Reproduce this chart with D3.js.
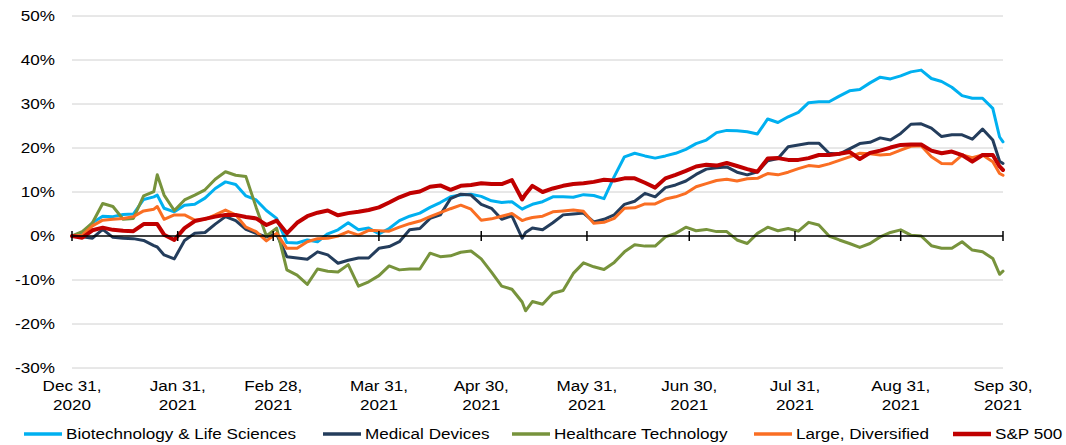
<!DOCTYPE html>
<html><head><meta charset="utf-8">
<script src="https://cdn.jsdelivr.net/npm/d3@7"></script>
<style>
html,body{margin:0;padding:0;background:#fff;}
svg{display:block;}
text{font-family:"Liberation Sans",Arial,Helvetica,sans-serif;font-size:15px;fill:#000;}
</style>
</head><body>
<svg id="chart" width="1066" height="445"></svg>
<script>
// ---------- DATA ----------
const dates = ["2020-12-31","2021-01-03","2021-01-06","2021-01-09","2021-01-12","2021-01-15","2021-01-18","2021-01-21","2021-01-24","2021-01-25",
"2021-01-27","2021-01-30","2021-02-02","2021-02-05","2021-02-08","2021-02-11","2021-02-14","2021-02-17","2021-02-20","2021-02-23",
"2021-02-26","2021-03-01","2021-03-04","2021-03-07","2021-03-10","2021-03-13","2021-03-16","2021-03-19","2021-03-22","2021-03-25",
"2021-03-28","2021-03-31","2021-04-03","2021-04-06","2021-04-09","2021-04-12","2021-04-15","2021-04-18","2021-04-21","2021-04-24",
"2021-04-27","2021-04-30","2021-05-03","2021-05-06","2021-05-09","2021-05-12","2021-05-13","2021-05-15","2021-05-18","2021-05-21",
"2021-05-24","2021-05-27","2021-05-30","2021-06-02","2021-06-05","2021-06-08","2021-06-11","2021-06-14","2021-06-17","2021-06-20",
"2021-06-23","2021-06-26","2021-06-29","2021-07-02","2021-07-05","2021-07-08","2021-07-11","2021-07-14","2021-07-17","2021-07-20",
"2021-07-23","2021-07-26","2021-07-29","2021-08-01","2021-08-04","2021-08-07","2021-08-10","2021-08-13","2021-08-16","2021-08-19",
"2021-08-22","2021-08-25","2021-08-28","2021-08-31","2021-09-03","2021-09-06","2021-09-09","2021-09-12","2021-09-15","2021-09-18",
"2021-09-21","2021-09-24","2021-09-27","2021-09-29","2021-09-30"];

const biotech = [0,0.5,3.0,4.5,4.4,4.9,5.0,8.3,8.9,9.3,
6.3,5.5,7.0,7.2,8.6,10.8,12.3,11.7,9.1,8.2,
5.8,4.0,-1.5,-1.6,-0.9,-1.3,0.5,1.4,3.0,1.4,
1.8,0.5,1.7,3.5,4.5,5.2,6.5,7.6,8.9,9.3,
9.5,9.0,8.0,7.6,7.8,6.1,6.5,7.2,7.8,8.9,
8.9,8.8,9.4,9.2,8.5,13.5,18.0,18.8,18.2,17.7,
18.2,18.8,19.7,21.0,21.8,23.5,24.0,23.9,23.7,23.2,
26.6,25.8,27.1,28.1,30.3,30.5,30.5,31.8,33.0,33.3,
34.8,36.1,35.7,36.4,37.3,37.7,35.8,35.1,33.8,31.9,
31.3,31.3,29.0,22.5,21.4];

const medical = [0,-0.2,-0.5,1.5,-0.3,-0.5,-0.6,-1.0,-2.2,-2.5,
-4.3,-5.2,-1.0,0.6,0.8,2.7,4.4,3.5,1.5,0.6,
-0.2,0.4,-4.7,-5.0,-5.3,-3.6,-4.3,-6.2,-5.5,-5.0,
-5.0,-2.8,-2.4,-1.3,1.4,1.7,4.0,4.8,8.5,9.5,
9.3,7.2,6.3,3.8,4.6,-0.5,0.8,1.8,1.4,3.0,
4.8,5.0,5.2,3.2,3.8,4.8,7.2,7.9,9.7,8.9,
11.0,11.6,12.5,14.0,15.2,15.5,15.7,14.5,13.9,14.6,
17.1,17.6,20.3,20.7,21.1,21.1,18.8,18.6,19.8,21.0,
21.3,22.3,21.8,23.3,25.4,25.5,24.5,22.6,23.0,23.0,
22.0,24.3,21.8,17.0,16.5];

const healthTech = [0,1.0,3.0,7.4,6.7,3.8,4.0,9.1,10.1,13.9,
9.3,5.8,8.2,9.3,10.5,12.9,14.6,13.8,13.5,6.5,
0.0,1.8,-7.7,-8.9,-11.0,-7.5,-8.0,-8.2,-6.5,-11.4,
-10.4,-9.0,-6.8,-7.7,-7.5,-7.5,-3.9,-4.7,-4.5,-3.7,
-3.4,-5.2,-8.2,-11.4,-12.1,-15.0,-17.0,-14.9,-15.5,-13.0,
-12.4,-8.5,-6.1,-7.0,-7.6,-6.0,-3.6,-2.0,-2.3,-2.3,
-0.2,0.6,2.0,1.2,1.5,1.0,1.0,-0.9,-1.7,0.6,
2.0,1.2,1.7,1.1,3.1,2.5,0.0,-0.9,-1.7,-2.6,
-1.7,-0.2,0.8,1.4,0.2,0.0,-2.2,-2.8,-2.8,-1.3,
-3.2,-3.6,-5.1,-8.7,-8.0];

const largeDiv = [0,0.2,2.3,3.6,3.8,4.0,4.4,5.7,6.1,6.7,
3.8,4.8,4.8,3.6,3.8,4.8,5.9,4.8,2.0,1.0,
-1.1,0.6,-2.8,-2.8,-1.3,-0.6,-0.5,0.0,1.0,0.2,
1.3,1.2,1.1,2.0,2.8,3.4,4.4,5.3,6.2,7.0,
6.1,3.6,3.9,4.5,5.1,3.5,3.8,4.2,4.5,5.5,
5.7,5.9,5.6,2.9,3.1,4.0,6.3,6.4,7.3,7.3,
8.4,8.9,9.7,11.2,11.9,12.6,12.9,12.5,13.0,13.1,
14.2,13.9,14.5,15.3,16.0,15.8,16.4,17.2,18.0,18.8,
18.7,18.4,18.6,19.5,20.4,20.5,18.0,16.5,16.4,18.4,
17.8,18.4,16.9,14.2,13.8];

const sp500 = [0,-0.4,1.3,1.9,1.4,1.2,1.1,2.7,2.7,2.7,
0.3,-0.9,1.8,3.4,3.9,4.4,4.8,4.8,4.3,4.0,
2.5,3.5,0.6,3.0,4.5,5.3,5.8,4.7,5.2,5.5,
5.9,6.5,7.6,8.8,9.7,10.1,11.2,11.5,10.5,11.4,
11.6,12.0,11.8,11.8,12.7,8.3,9.5,11.4,10.0,10.8,
11.4,11.8,12.0,12.3,12.8,12.6,13.1,13.1,12.1,11.0,
13.1,13.9,14.8,15.8,16.2,16.0,16.6,15.9,15.2,14.6,
17.6,17.7,17.3,17.3,17.7,18.4,18.4,18.7,19.1,17.5,
18.9,19.4,20.1,20.7,20.8,20.8,19.4,18.8,19.2,18.4,
16.9,18.4,18.4,15.8,15.0];

const seriesNames = ["Biotechnology & Life Sciences","Medical Devices","Healthcare Technology","Large, Diversified","S&P 500"];
const seriesValues = [biotech, medical, healthTech, largeDiv, sp500];
const seriesColors = ["#00B0F0","#243D5C","#77933C","#FA6E23","#C00000"];
const seriesWidths = [3,3,3,3,4];

const yTicks = [-30,-20,-10,0,10,20,30,40,50];
const xTickDates = ["2020-12-31","2021-01-31","2021-02-28","2021-03-31","2021-04-30","2021-05-31","2021-06-30","2021-07-31","2021-08-31","2021-09-30"];
const xTickLabels = [["Dec 31,","2020"],["Jan 31,","2021"],["Feb 28,","2021"],["Mar 31,","2021"],["Apr 30,","2021"],["May 31,","2021"],["Jun 30,","2021"],["Jul 31,","2021"],["Aug 31,","2021"],["Sep 30,","2021"]];

// ---------- CHART ----------
(function(){
const parse = d3.timeParse("%Y-%m-%d");
const svg = d3.select("#chart");
const SX = 1.14; // horizontal text stretch of the original
const pL = 72, pR = 1003, pT = 16, pB = 368;
const legendX = [24, 323, 512, 754, 953];

const x = d3.scaleTime().domain([parse(xTickDates[0]), parse(xTickDates[xTickDates.length-1])]).range([pL, pR]);
const y = d3.scaleLinear().domain([-30, 50]).range([pB, pT]);

svg.append("rect").attr("width",1066).attr("height",445).attr("fill","#fff");

function stretchedText(g, px, py, str, anchor){
  return g.append("text")
    .attr("transform", `translate(${px},${py}) scale(${SX},1)`)
    .attr("text-anchor", anchor)
    .text(str);
}

// gridlines
const grid = svg.append("g");
yTicks.filter(v => v !== 0).forEach(v => {
  grid.append("line").attr("x1", pL).attr("x2", pR)
    .attr("y1", y(v)).attr("y2", y(v))
    .attr("stroke", "#D0D0D0").attr("stroke-width", 1);
});

// y labels
const yl = svg.append("g");
yTicks.forEach(v => stretchedText(yl, 55, y(v) + 5, v + "%", "end"));

// series lines
const line = d3.line()
  .x((d, i) => x(parse(dates[i])))
  .y(d => y(d));

const lines = svg.append("g");
seriesValues.forEach((vals, k) => {
  lines.append("path").datum(vals)
    .attr("d", line)
    .attr("fill", "none")
    .attr("stroke", seriesColors[k])
    .attr("stroke-width", seriesWidths[k])
    .attr("stroke-linejoin", "round")
    .attr("stroke-linecap", "round");
});

// zero axis with crossing ticks
const ax = svg.append("g");
ax.append("line").attr("x1", pL).attr("x2", pR)
  .attr("y1", y(0)).attr("y2", y(0))
  .attr("stroke", "#000").attr("stroke-width", 1.5);
xTickDates.forEach(ds => {
  const px = x(parse(ds));
  ax.append("line").attr("x1", px).attr("x2", px)
    .attr("y1", y(0) - 5).attr("y2", y(0) + 5)
    .attr("stroke", "#000").attr("stroke-width", 1.5);
});

// x labels
const xl = svg.append("g");
xTickDates.forEach((ds, i) => {
  const px = x(parse(ds));
  stretchedText(xl, px, 391, xTickLabels[i][0], "middle");
  stretchedText(xl, px, 409.5, xTickLabels[i][1], "middle");
});

// legend
const lg = svg.append("g");
const ly = 434;
seriesNames.forEach((name, k) => {
  const cx = legendX[k];
  lg.append("line").attr("x1", cx).attr("x2", cx + 38)
    .attr("y1", ly).attr("y2", ly)
    .attr("stroke", seriesColors[k]).attr("stroke-width", seriesWidths[k] + 0.5);
  stretchedText(lg, cx + 42, ly + 5, name, "start");
});
})();
</script>
</body></html>
